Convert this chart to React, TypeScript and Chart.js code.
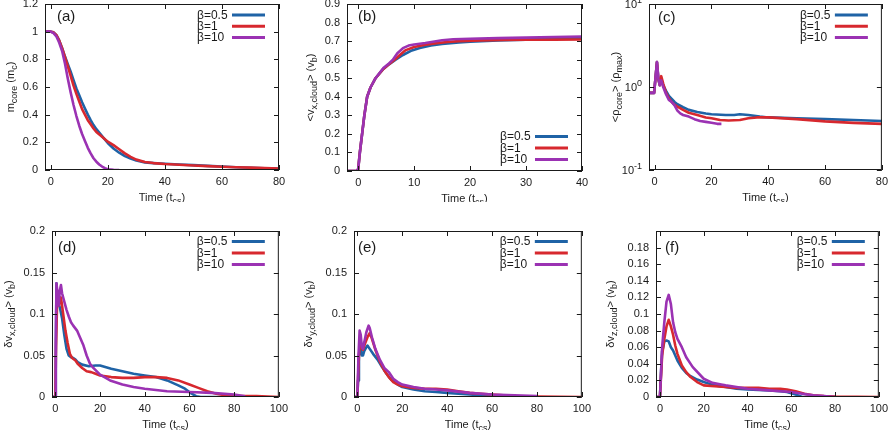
import React, { useEffect, useRef } from 'react';
import { Chart, registerables } from 'chart.js';
Chart.register(...registerables);

const FONT = '"Liberation Sans", Arial, Helvetica, sans-serif';
const INK = '#1a1a1a';
const COLORS = ['#1f63a6', '#d7282e', '#9b32b3'];
const SERIES_LABELS = ['β=0.5', 'β=1', 'β=10'];

// ---------- (a) m_core ----------
const aT05 = [-2, 0, 1, 2, 3, 4, 5, 6, 7, 8, 9, 10, 11, 12, 13, 14, 15, 16, 18, 20, 22, 24, 26, 28, 30, 33, 36, 40, 45, 50, 55, 60, 65, 70, 75, 80];
const aV05 = [1, 1, 0.995, 0.975, 0.935, 0.88, 0.82, 0.765, 0.71, 0.65, 0.59, 0.54, 0.49, 0.445, 0.4, 0.36, 0.325, 0.295, 0.245, 0.195, 0.155, 0.125, 0.1, 0.083, 0.068, 0.055, 0.05, 0.045, 0.04, 0.035, 0.03, 0.025, 0.02, 0.016, 0.013, 0.01];
const aT1 = [-2, 0, 1, 2, 3, 4, 5, 6, 7, 8, 9, 10, 11, 12, 13, 14, 15, 16, 18, 20, 22, 24, 26, 28, 30, 33, 36, 40, 45, 50, 55, 60, 65, 70, 75, 80];
const aV1 = [1, 1, 0.995, 0.975, 0.935, 0.88, 0.815, 0.75, 0.68, 0.61, 0.55, 0.495, 0.44, 0.4, 0.36, 0.33, 0.3, 0.275, 0.24, 0.205, 0.18, 0.15, 0.12, 0.095, 0.075, 0.058, 0.05, 0.043, 0.038, 0.033, 0.028, 0.024, 0.02, 0.017, 0.014, 0.011];
const aT10 = [-2, 0, 1, 2, 3, 4, 5, 6, 7, 8, 9, 10, 11, 12, 13, 14, 15, 16, 17, 18, 19, 20, 22, 24];
const aV10 = [1, 1, 0.99, 0.965, 0.92, 0.86, 0.77, 0.66, 0.56, 0.47, 0.39, 0.32, 0.26, 0.21, 0.16, 0.12, 0.085, 0.06, 0.04, 0.025, 0.013, 0.006, 0.001, 0];

// ---------- (b) <v_x,cloud> ----------
const bT05 = [-2, -0.3, 0, 0.3, 0.7, 1.1, 1.6, 2.2, 3.1, 4.5, 5.5, 6.7, 8, 9.6, 11, 13, 15, 18, 20, 25, 30, 35, 40];
const bV05 = [0, 0, 0.01, 0.1, 0.2, 0.3, 0.4, 0.45, 0.5, 0.55, 0.575, 0.6, 0.625, 0.65, 0.663, 0.676, 0.685, 0.693, 0.697, 0.703, 0.708, 0.713, 0.718];
const bT1 = [-2, -0.3, 0, 0.3, 0.7, 1.1, 1.6, 2.2, 3.1, 4.5, 5.5, 6.5, 7.5, 8.4, 10, 12, 14, 16, 18, 22, 26, 30, 35, 40];
const bV1 = [0, 0, 0.01, 0.1, 0.2, 0.3, 0.4, 0.45, 0.5, 0.55, 0.575, 0.6, 0.627, 0.65, 0.668, 0.68, 0.689, 0.695, 0.7, 0.704, 0.706, 0.707, 0.708, 0.709];
const bT10 = [-2, -0.3, 0, 0.3, 0.7, 1.1, 1.6, 2.2, 3.1, 4.5, 5.5, 6.2, 7, 8, 9, 10, 12, 15, 17, 20, 25, 30, 35, 40];
const bV10 = [0, 0, 0.01, 0.1, 0.2, 0.3, 0.4, 0.45, 0.5, 0.555, 0.58, 0.6, 0.635, 0.662, 0.676, 0.682, 0.69, 0.705, 0.71, 0.713, 0.716, 0.719, 0.722, 0.725];

// ---------- (c) <rho_core> ----------
const cT05 = [-2, -0.2, 0.3, 0.8, 1.3, 1.8, 2.3, 3, 4, 5, 6, 7, 8, 10, 12, 15, 18, 20, 25, 28, 30, 33, 37, 40, 50, 60, 70, 80];
const cV05 = [0.85, 0.85, 1.3, 2.0, 1.25, 1.05, 1.25, 1.05, 0.9, 0.78, 0.72, 0.66, 0.62, 0.57, 0.53, 0.5, 0.48, 0.47, 0.46, 0.46, 0.47, 0.46, 0.44, 0.43, 0.42, 0.41, 0.4, 0.39];
const cT1 = [-2, -0.2, 0.3, 0.8, 1.3, 1.8, 2.3, 3, 4, 5, 6, 7, 8, 10, 12, 15, 18, 20, 23, 26, 30, 33, 36, 40, 50, 60, 70, 80];
const cV1 = [0.85, 0.85, 1.3, 2.0, 1.25, 1.05, 1.35, 1.1, 0.85, 0.73, 0.66, 0.61, 0.58, 0.53, 0.49, 0.46, 0.43, 0.42, 0.4, 0.395, 0.4, 0.42, 0.43, 0.43, 0.41, 0.385, 0.37, 0.36];
const cT10 = [-2, -0.2, 0.3, 0.8, 1.3, 1.8, 2.3, 3, 4, 5, 6, 7, 8, 9, 10, 12, 14, 16, 18, 20, 22, 23.5];
const cV10 = [0.85, 0.85, 1.3, 2.0, 1.25, 1.05, 1.2, 1.0, 0.82, 0.7, 0.66, 0.6, 0.52, 0.48, 0.46, 0.44, 0.41, 0.39, 0.38, 0.37, 0.36, 0.36];

// ---------- (d) dv_x,cloud ----------
const dT05 = [-1.5, 0, 0.2, 0.5, 1, 1.5, 2, 3, 4, 5, 6, 7, 8, 9, 10, 12, 15, 18, 20, 25, 30, 35, 40, 45, 50, 55, 58, 61, 63, 65, 80];
const dV05 = [0, 0, 0.05, 0.137, 0.11, 0.112, 0.108, 0.095, 0.075, 0.058, 0.05, 0.048, 0.047, 0.045, 0.042, 0.039, 0.037, 0.038, 0.038, 0.034, 0.031, 0.028, 0.026, 0.024, 0.02, 0.014, 0.01, 0.004, 0.001, 0, 0];
const dT1 = [-1.5, 0, 0.3, 0.8, 1.5, 2.5, 3.5, 4.5, 5.5, 6.5, 7.5, 9, 10, 12, 14, 16, 18, 20, 25, 30, 35, 40, 45, 50, 55, 60, 64, 68, 72, 76, 80, 90, 100];
const dV1 = [0, 0, 0.06, 0.115, 0.11, 0.12, 0.1, 0.08, 0.065, 0.052, 0.047, 0.044, 0.04, 0.035, 0.031, 0.03, 0.028, 0.026, 0.024, 0.023, 0.023, 0.024, 0.024, 0.023, 0.02, 0.015, 0.011, 0.007, 0.004, 0.002, 0.001, 0.001, 0];
const dT10 = [-1.5, 0, 0.2, 0.5, 1, 1.5, 2, 2.5, 3, 4, 5, 6, 7, 8, 9.7, 11, 12.6, 14, 15.5, 17, 20, 24.5, 30, 35, 40, 50, 60, 70, 80, 85];
const dV10 = [0, 0, 0.07, 0.137, 0.125, 0.11, 0.128, 0.135, 0.125, 0.115, 0.105, 0.097, 0.09, 0.086, 0.08, 0.072, 0.062, 0.05, 0.04, 0.035, 0.027, 0.02, 0.015, 0.012, 0.01, 0.007, 0.006, 0.005, 0.003, 0.001];

// ---------- (e) dv_y,cloud ----------
const eT05 = [-1.5, 0, 0.3, 0.7, 1, 1.5, 2, 2.5, 3, 4, 4.5, 5.5, 7, 9, 11, 13, 15, 18, 20, 25, 30, 35, 40, 45, 50, 60, 70, 80];
const eV05 = [0, 0, 0.02, 0.05, 0.055, 0.06, 0.05, 0.05, 0.055, 0.06, 0.062, 0.058, 0.052, 0.045, 0.036, 0.028, 0.021, 0.015, 0.012, 0.009, 0.007, 0.006, 0.005, 0.004, 0.003, 0.001, 0, 0];
const eT1 = [-1.5, 0, 0.7, 1.2, 1.8, 2.5, 3.5, 4.5, 5.5, 6.5, 8, 10, 12, 14, 16, 18, 20, 25, 30, 35, 40, 45, 50, 55, 60, 70, 80, 100];
const eV1 = [0, 0, 0.05, 0.065, 0.06, 0.057, 0.065, 0.072, 0.077, 0.07, 0.057, 0.043, 0.032, 0.024, 0.018, 0.015, 0.013, 0.011, 0.01, 0.01, 0.009, 0.007, 0.005, 0.004, 0.003, 0.001, 0.0005, 0];
const eT10 = [-1.5, 0, 0.5, 1, 1.5, 2, 2.5, 3, 4, 5, 5.5, 6.5, 8, 10, 12, 14, 16, 18, 20, 25, 30, 35, 40, 50, 60, 70, 80];
const eV10 = [0, 0, 0.05, 0.08, 0.075, 0.06, 0.058, 0.065, 0.078, 0.086, 0.083, 0.072, 0.058, 0.045, 0.035, 0.03, 0.022, 0.018, 0.015, 0.012, 0.01, 0.009, 0.008, 0.005, 0.003, 0.002, 0.001];

// ---------- (f) dv_z,cloud ----------
const fT05 = [-1.5, 0, 0.5, 1, 1.5, 2, 3, 4, 5, 6, 7, 8, 10, 12, 14, 17, 20, 25, 30, 35, 40, 45, 50, 55, 58, 62, 65, 80];
const fV05 = [0, 0, 0.03, 0.055, 0.06, 0.067, 0.068, 0.067, 0.06, 0.056, 0.05, 0.044, 0.035, 0.029, 0.025, 0.021, 0.018, 0.014, 0.012, 0.01, 0.009, 0.0085, 0.008, 0.007, 0.006, 0.003, 0, 0];
const fT1 = [-1.5, 0, 0.5, 1, 2, 3, 4, 5, 6, 7, 8, 10, 12, 14, 17, 20, 25, 30, 35, 40, 45, 50, 55, 58, 62, 66, 70, 75, 80, 100];
const fV1 = [0, 0, 0.025, 0.05, 0.07, 0.085, 0.093, 0.085, 0.075, 0.062, 0.052, 0.038, 0.03, 0.024, 0.018, 0.014, 0.013, 0.012, 0.011, 0.011, 0.011, 0.01, 0.01, 0.009, 0.007, 0.004, 0.002, 0.001, 0.0005, 0];
const fT10 = [-1.5, 0, 0.5, 1, 2, 3, 4, 5, 6, 7, 8, 10, 12, 15, 20, 24, 28, 30, 35, 40, 50, 60, 65, 70, 75, 80];
const fV10 = [0, 0, 0.03, 0.06, 0.09, 0.115, 0.123, 0.112, 0.09, 0.078, 0.07, 0.06, 0.048, 0.036, 0.022, 0.017, 0.015, 0.014, 0.012, 0.01, 0.008, 0.006, 0.004, 0.002, 0.001, 0];

// ---------- tick values & labels ----------
const xTicks80 = [0, 20, 40, 60, 80];
const xTicks40 = [0, 10, 20, 30, 40];
const xTicks100 = [0, 20, 40, 60, 80, 100];
const xLabels80 = ['0', '20', '40', '60', '80'];
const xLabels40 = ['0', '10', '20', '30', '40'];
const xLabels100 = ['0', '20', '40', '60', '80', '100'];
const yTicksA = [0, 0.2, 0.4, 0.6, 0.8, 1, 1.2];
const yLabelsA = ['0', '0.2', '0.4', '0.6', '0.8', '1', '1.2'];
const yTicksB = [0, 0.1, 0.2, 0.3, 0.4, 0.5, 0.6, 0.7, 0.8, 0.9];
const yLabelsB = ['0', '0.1', '0.2', '0.3', '0.4', '0.5', '0.6', '0.7', '0.8', '0.9'];
const yTicksC = [0.1, 1, 10];
const yExpC = ['-1', '0', '1'];
const yTicksDE = [0, 0.05, 0.1, 0.15, 0.2];
const yLabelsDE = ['0', '0.05', '0.1', '0.15', '0.2'];
const yTicksF = [0, 0.02, 0.04, 0.06, 0.08, 0.1, 0.12, 0.14, 0.16, 0.18];
const yLabelsF = ['0', '0.02', '0.04', '0.06', '0.08', '0.1', '0.12', '0.14', '0.16', '0.18'];

type Seg = { t: string; k?: 'sub' | 'sup' };

const X_TITLE: Seg[] = [{ t: 'Time (t' }, { t: 'cs', k: 'sub' }, { t: ')' }];

function drawRich(ctx: CanvasRenderingContext2D, segs: Seg[], x: number, y: number, size: number, align: 'left' | 'center' | 'right') {
  const small = Math.round(size * 0.78);
  let total = 0;
  const ws = segs.map((s) => {
    ctx.font = `${s.k ? small : size}px ${FONT}`;
    const w = ctx.measureText(s.t).width;
    total += w;
    return w;
  });
  let cx = align === 'center' ? x - total / 2 : align === 'right' ? x - total : x;
  ctx.textAlign = 'left';
  ctx.textBaseline = 'alphabetic';
  segs.forEach((s, i) => {
    ctx.font = `${s.k ? small : size}px ${FONT}`;
    const dy = s.k === 'sub' ? size * 0.3 : s.k === 'sup' ? -size * 0.45 : 0;
    ctx.fillText(s.t, cx, y + dy);
    cx += ws[i];
  });
}

type Panel = {
  id: string;
  cl: number; ct: number; w: number; h: number;
  padTop: number; padRight: number; yW: number; xH: number;
  xMin: number; xMax: number; xTicks: number[]; xLabels: string[];
  log: boolean; yMin: number; yMax: number; yTicks: number[]; yLabels: string[] | null;
  series: [number[], number[]][];
  yTitle: Seg[]; yTitleX: number;
  tag: string; tagX: number; tagY: number;
  legendBottom: boolean; legendOff: number[];
};

const PANELS: Panel[] = [
  {
    id: 'a', cl: 0, ct: -10, w: 293, h: 212, padTop: 14, padRight: 14, yW: 45, xH: 32,
    xMin: -2, xMax: 80, xTicks: xTicks80, xLabels: xLabels80,
    log: false, yMin: 0, yMax: 1.2, yTicks: yTicksA, yLabels: yLabelsA,
    series: [[aT05, aV05], [aT1, aV1], [aT10, aV10]],
    yTitle: [{ t: 'm' }, { t: 'core', k: 'sub' }, { t: ' (m' }, { t: 'c', k: 'sub' }, { t: ')' }], yTitleX: 10,
    tag: '(a)', tagX: 57, tagY: 17, legendBottom: false, legendOff: [11, 22.3, 33.6],
  },
  {
    id: 'b', cl: 297, ct: -10, w: 299, h: 212, padTop: 14, padRight: 14, yW: 50, xH: 31,
    xMin: -2, xMax: 40, xTicks: xTicks40, xLabels: xLabels40,
    log: false, yMin: 0, yMax: 0.9, yTicks: yTicksB, yLabels: yLabelsB,
    series: [[bT05, bV05], [bT1, bV1], [bT10, bV10]],
    yTitle: [{ t: '<v' }, { t: 'x,cloud', k: 'sub' }, { t: '> (v' }, { t: 'b', k: 'sub' }, { t: ')' }], yTitleX: 310,
    tag: '(b)', tagX: 358, tagY: 17, legendBottom: true, legendOff: [34.5, 23, 11.5],
  },
  {
    id: 'c', cl: 594, ct: -10, w: 299, h: 212, padTop: 14, padRight: 9, yW: 55, xH: 32,
    xMin: -2, xMax: 80, xTicks: xTicks80, xLabels: xLabels80,
    log: true, yMin: 0.1, yMax: 10, yTicks: yTicksC, yLabels: null,
    series: [[cT05, cV05], [cT1, cV1], [cT10, cV10]],
    yTitle: [{ t: '<ρ' }, { t: 'core', k: 'sub' }, { t: '> (ρ' }, { t: 'max', k: 'sub' }, { t: ')' }], yTitleX: 615,
    tag: '(c)', tagX: 658, tagY: 18, legendBottom: false, legendOff: [11, 22.3, 33.6],
  },
  {
    id: 'd', cl: 0, ct: 217, w: 293, h: 213, padTop: 14, padRight: 14, yW: 52, xH: 33,
    xMin: -1.5, xMax: 100, xTicks: xTicks100, xLabels: xLabels100,
    log: false, yMin: 0, yMax: 0.2, yTicks: yTicksDE, yLabels: yLabelsDE,
    series: [[dT05, dV05], [dT1, dV1], [dT10, dV10]],
    yTitle: [{ t: 'δv' }, { t: 'x,cloud', k: 'sub' }, { t: '> (v' }, { t: 'b', k: 'sub' }, { t: ')' }], yTitleX: 8,
    tag: '(d)', tagX: 58, tagY: 248, legendBottom: false, legendOff: [10.5, 22, 33.5],
  },
  {
    id: 'e', cl: 297, ct: 217, w: 299, h: 213, padTop: 14, padRight: 14, yW: 57, xH: 33,
    xMin: -1.5, xMax: 100, xTicks: xTicks100, xLabels: xLabels100,
    log: false, yMin: 0, yMax: 0.2, yTicks: yTicksDE, yLabels: yLabelsDE,
    series: [[eT05, eV05], [eT1, eV1], [eT10, eV10]],
    yTitle: [{ t: 'δv' }, { t: 'y,cloud', k: 'sub' }, { t: '> (v' }, { t: 'b', k: 'sub' }, { t: ')' }], yTitleX: 308,
    tag: '(e)', tagX: 358, tagY: 248, legendBottom: false, legendOff: [10.5, 22, 33.5],
  },
  {
    id: 'f', cl: 594, ct: 217, w: 299, h: 213, padTop: 14, padRight: 10, yW: 62, xH: 33,
    xMin: -1.8, xMax: 100, xTicks: xTicks100, xLabels: xLabels100,
    log: false, yMin: 0, yMax: 0.2, yTicks: yTicksF, yLabels: yLabelsF,
    series: [[fT05, fV05], [fT1, fV1], [fT10, fV10]],
    yTitle: [{ t: 'δv' }, { t: 'z,cloud', k: 'sub' }, { t: '> (v' }, { t: 'b', k: 'sub' }, { t: ')' }], yTitleX: 610,
    tag: '(f)', tagX: 665, tagY: 248, legendBottom: false, legendOff: [10.5, 22, 33.5],
  },
];

function makeDecor(p: Panel) {
  return {
    id: 'decor_' + p.id,
    afterDraw(chart: any) {
      const ctx: CanvasRenderingContext2D = chart.ctx;
      const { left, right, top, bottom } = chart.chartArea;
      const xs = chart.scales.x;
      const ys = chart.scales.y;
      ctx.save();
      ctx.strokeStyle = INK;
      ctx.fillStyle = INK;
      ctx.lineWidth = 1;
      ctx.beginPath();
      p.xTicks.forEach((v) => {
        const px = Math.round(xs.getPixelForValue(v)) + 0.5;
        ctx.moveTo(px, bottom);
        ctx.lineTo(px, bottom - 5);
        ctx.moveTo(px, top);
        ctx.lineTo(px, top + 5);
      });
      p.yTicks.forEach((v) => {
        const py = Math.round(ys.getPixelForValue(v)) + 0.5;
        ctx.moveTo(left, py);
        ctx.lineTo(left + 5, py);
        ctx.moveTo(right, py);
        ctx.lineTo(right - 5, py);
      });
      ctx.stroke();
      ctx.strokeRect(left + 0.5, top + 0.5, right - left - 1, bottom - top - 1);

      if (p.log) {
        p.yTicks.forEach((v, i) => {
          const py = ys.getPixelForValue(v);
          drawRich(ctx, [{ t: '10' }, { t: yExpC[i], k: 'sup' }], left - 7, py + 4, 11, 'right');
        });
      }

      ctx.font = `15px ${FONT}`;
      ctx.textAlign = 'left';
      ctx.textBaseline = 'middle';
      ctx.fillText(p.tag, p.tagX - p.cl, p.tagY - p.ct);

      SERIES_LABELS.forEach((lab, i) => {
        const y = p.legendBottom ? bottom - p.legendOff[i] : top + p.legendOff[i];
        ctx.fillStyle = INK;
        ctx.font = `12px ${FONT}`;
        ctx.textAlign = 'left';
        ctx.textBaseline = 'middle';
        ctx.fillText(lab, right - 82, y + 0.5);
        ctx.strokeStyle = COLORS[i];
        ctx.lineWidth = 3;
        ctx.beginPath();
        ctx.moveTo(right - 47, y);
        ctx.lineTo(right - 14, y);
        ctx.stroke();
      });

      ctx.fillStyle = INK;
      drawRich(ctx, X_TITLE, (left + right) / 2, bottom + 31, 11, 'center');

      ctx.save();
      ctx.translate(p.yTitleX - p.cl, (top + bottom) / 2);
      ctx.rotate(-Math.PI / 2);
      drawRich(ctx, p.yTitle, 0, 4, 11, 'center');
      ctx.restore();

      ctx.restore();
    },
  };
}

function PanelChart({ p }: { p: Panel }) {
  const ref = useRef<HTMLCanvasElement>(null);
  useEffect(() => {
    const order = [3, 2, 1];
    const chart = new Chart(ref.current as HTMLCanvasElement, {
      type: 'line',
      data: {
        datasets: p.series.map(([t, v], i) => ({
          label: SERIES_LABELS[i],
          data: t.map((x, j) => ({ x, y: v[j] })),
          borderColor: COLORS[i],
          backgroundColor: COLORS[i],
          borderWidth: 2.6,
          pointRadius: 0,
          tension: 0,
          fill: false,
          order: order[i],
          borderJoinStyle: 'round' as const,
        })),
      },
      options: {
        animation: false,
        responsive: false,
        maintainAspectRatio: false,
        devicePixelRatio: 1,
        layout: { padding: { top: p.padTop, right: p.padRight, left: 0, bottom: 0 } },
        plugins: { legend: { display: false }, tooltip: { enabled: false }, title: { display: false } },
        scales: {
          x: {
            type: 'linear',
            min: p.xMin,
            max: p.xMax,
            grid: { display: false, drawTicks: false },
            border: { display: false },
            afterBuildTicks: (s: any) => { s.ticks = p.xTicks.map((value) => ({ value })); },
            afterFit: (s: any) => { s.height = p.xH; },
            ticks: {
              padding: 5,
              maxRotation: 0,
              autoSkip: false,
              color: INK,
              font: { family: FONT, size: 11 },
              callback: (_v: any, i: number) => p.xLabels[i],
            },
          },
          y: {
            type: p.log ? 'logarithmic' : 'linear',
            min: p.yMin,
            max: p.yMax,
            grid: { display: false, drawTicks: false },
            border: { display: false },
            afterBuildTicks: (s: any) => { s.ticks = p.yTicks.map((value) => ({ value })); },
            afterFit: (s: any) => { s.width = p.yW; },
            ticks: {
              padding: 7,
              autoSkip: false,
              color: INK,
              font: { family: FONT, size: 11 },
              callback: (_v: any, i: number) => (p.yLabels ? p.yLabels[i] : ''),
            },
          },
        } as any,
      },
      plugins: [makeDecor(p)],
    });
    return () => chart.destroy();
  }, []);
  return (
    <canvas
      ref={ref}
      width={p.w}
      height={p.h}
      style={{ position: 'absolute', left: p.cl, top: p.ct, width: p.w, height: p.h }}
    />
  );
}

export default function App() {
  return (
    <div style={{ position: 'fixed', left: 0, top: 0, width: 893, height: 430, background: '#fff', overflow: 'hidden' }}>
      {PANELS.map((p) => (
        <PanelChart key={p.id} p={p} />
      ))}
    </div>
  );
}
